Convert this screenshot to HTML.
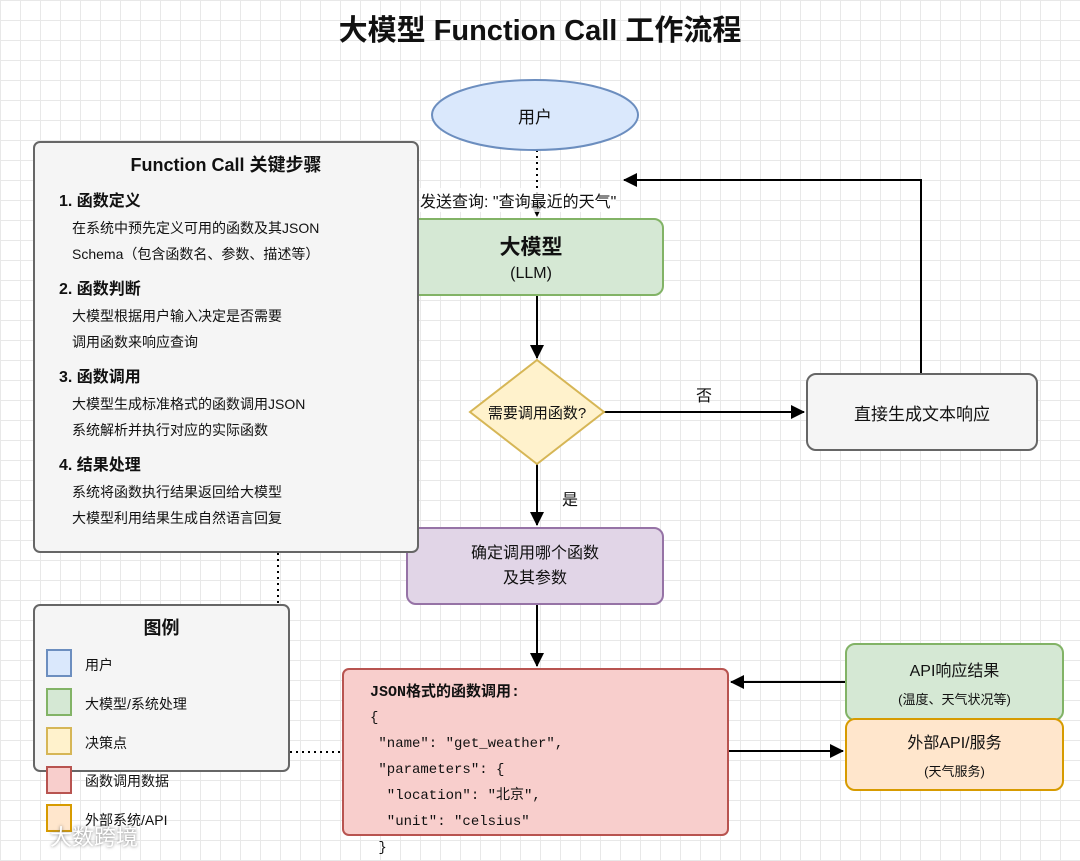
<!DOCTYPE html>
<html><head><meta charset="utf-8"><style>
body{margin:0;width:1080px;height:857px;overflow:hidden;font-family:"Liberation Sans","Noto Sans CJK SC",sans-serif;color:#111;
background-color:#fff;background-image:linear-gradient(#e8e8e8 1px,transparent 1px),linear-gradient(90deg,#e8e8e8 1px,transparent 1px);background-size:20px 20px;position:relative}
.a{position:absolute;box-sizing:border-box}
.c{display:flex;flex-direction:column;align-items:center;justify-content:center;text-align:center}
.sw{position:absolute;left:46px;width:26px;height:28px;box-sizing:border-box;border:2px solid}
.lt{position:absolute;left:85px;font-size:14px}
</style></head><body>
<div class="a" style="left:0;top:7px;width:1080px;text-align:center;font-size:29px;font-weight:bold">大模型 Function Call 工作流程</div>
<svg class="a" style="left:0;top:0" width="1080" height="857">
<defs><marker id="ar" markerWidth="14" markerHeight="14" refX="13" refY="7" orient="auto" markerUnits="userSpaceOnUse"><path d="M0,0L14,7L0,14z" fill="#000"/></marker></defs>
<g stroke="#000" stroke-width="2" fill="none">
<line x1="537" y1="150" x2="537" y2="216" stroke-dasharray="2,4" marker-end="url(#ar)"/>
<line x1="537" y1="296" x2="537" y2="358" marker-end="url(#ar)"/>
<line x1="604" y1="412" x2="804" y2="412" marker-end="url(#ar)"/>
<polyline points="921,373 921,180 624,180" marker-end="url(#ar)"/>
<line x1="537" y1="464" x2="537" y2="525" marker-end="url(#ar)"/>
<line x1="537" y1="605" x2="537" y2="666" marker-end="url(#ar)"/>
<line x1="845" y1="682" x2="731" y2="682" marker-end="url(#ar)"/>
<line x1="729" y1="751" x2="843" y2="751" marker-end="url(#ar)"/>
<line x1="290" y1="752" x2="342" y2="752" stroke-dasharray="2,4"/>
<line x1="278" y1="553" x2="278" y2="604" stroke-dasharray="2,4"/>
</g>
<ellipse cx="535" cy="115" rx="103" ry="35" fill="#dae8fc" stroke="#6c8ebf" stroke-width="2"/>
<polygon points="537,360 604,412 537,464 470,412" fill="#fff2cc" stroke="#d6b656" stroke-width="2"/>
</svg>
<div class="a c" style="left:432px;top:80px;width:206px;height:70px;font-size:17px">用户</div>
<div class="a" style="left:420px;top:188px;font-size:16px;background:rgba(255,255,255,.8)">发送查询: "查询最近的天气"</div>
<div class="a c" style="left:398px;top:218px;width:266px;height:78px;background:#d5e8d4;border:2px solid #82b366;border-radius:10px"><div style="font-size:21px;font-weight:bold">大模型</div><div style="font-size:16px;margin-top:4px">(LLM)</div></div>
<div class="a c" style="left:470px;top:395px;width:134px;height:34px;font-size:15px">需要调用函数?</div>
<div class="a" style="left:696px;top:382px;font-size:16px">否</div>
<div class="a" style="left:562px;top:486px;font-size:16px">是</div>
<div class="a c" style="left:806px;top:373px;width:232px;height:78px;background:#f5f5f5;border:2px solid #666;border-radius:10px;font-size:17px">直接生成文本响应</div>
<div class="a c" style="left:406px;top:527px;width:258px;height:78px;background:#e1d5e7;border:2px solid #9673a6;border-radius:10px;font-size:16px;line-height:25px">确定调用哪个函数<br>及其参数</div>
<div class="a" style="left:33px;top:141px;width:386px;height:412px;background:#f5f5f5;border:2px solid #666;border-radius:7px;padding:8px 0 0 24px">
<div style="text-align:center;font-weight:bold;font-size:18px;margin-left:-24px">Function Call 关键步骤</div>
<div style="font-size:14px;line-height:26px;margin-top:12px">
<div style="font-weight:bold;font-size:16px">1. 函数定义</div>
<div style="padding-left:13px">在系统中预先定义可用的函数及其JSON<br>Schema（包含函数名、参数、描述等）</div>
<div style="font-weight:bold;font-size:16px;margin-top:10px">2. 函数判断</div>
<div style="padding-left:13px">大模型根据用户输入决定是否需要<br>调用函数来响应查询</div>
<div style="font-weight:bold;font-size:16px;margin-top:10px">3. 函数调用</div>
<div style="padding-left:13px">大模型生成标准格式的函数调用JSON<br>系统解析并执行对应的实际函数</div>
<div style="font-weight:bold;font-size:16px;margin-top:10px">4. 结果处理</div>
<div style="padding-left:13px">系统将函数执行结果返回给大模型<br>大模型利用结果生成自然语言回复</div>
</div></div>
<div class="a" style="left:33px;top:604px;width:257px;height:168px;background:#f5f5f5;border:2px solid #666;border-radius:7px"><div style="text-align:center;font-weight:bold;font-size:18px;margin-top:8px">图例</div></div>
<div class="sw" style="top:649px;background:#dae8fc;border-color:#6c8ebf"></div><div class="lt" style="top:655px">用户</div>
<div class="sw" style="top:688px;background:#d5e8d4;border-color:#82b366"></div><div class="lt" style="top:694px">大模型/系统处理</div>
<div class="sw" style="top:727px;background:#fff2cc;border-color:#d6b656"></div><div class="lt" style="top:733px">决策点</div>
<div class="sw" style="top:766px;background:#f8cecc;border-color:#b85450"></div><div class="lt" style="top:771px">函数调用数据</div>
<div class="sw" style="top:804px;background:#ffe6cc;border-color:#d79b00"></div><div class="lt" style="top:810px">外部系统/API</div>
<div class="a" style="left:50px;top:820px;font-size:22px;color:#fff;text-shadow:0 0 3px #777">大数跨境</div>
<div class="a" style="left:342px;top:668px;width:387px;height:168px;background:#f8cecc;border:2px solid #b85450;border-radius:7px;padding:10px 0 0 26px;font-family:'Liberation Mono','Noto Sans CJK SC',monospace;font-size:14px">
<div style="font-weight:bold;font-size:15px">JSON格式的函数调用:</div>
<div style="line-height:26px;margin-top:4px;white-space:pre">{
 "name": "get_weather",
 "parameters": {
  "location": "北京",
  "unit": "celsius"
 }</div></div>
<div class="a c" style="left:845px;top:643px;width:219px;height:78px;background:#d5e8d4;border:2px solid #82b366;border-radius:10px"><div style="font-size:16px">API响应结果</div><div style="font-size:13px;margin-top:8px">(温度、天气状况等)</div></div>
<div class="a c" style="left:845px;top:718px;width:219px;height:73px;background:#ffe6cc;border:2px solid #d79b00;border-radius:10px"><div style="font-size:16px">外部API/服务</div><div style="font-size:13px;margin-top:8px">(天气服务)</div></div>
</body></html>
